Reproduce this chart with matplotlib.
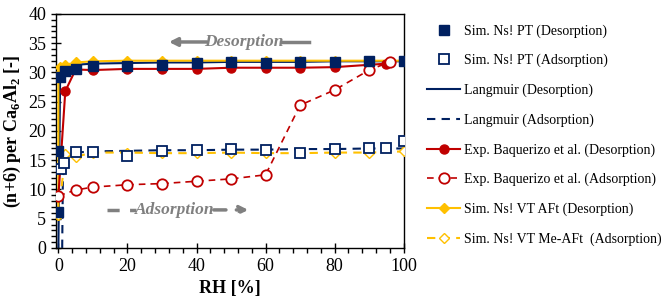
import numpy as np
import matplotlib
matplotlib.use('Agg')
import matplotlib.pyplot as plt
from matplotlib.ticker import MultipleLocator

plt.rcParams['font.family'] = 'Liberation Serif'
plt.rcParams['mathtext.fontset'] = 'custom'
plt.rcParams['mathtext.rm'] = 'Liberation Serif'
plt.rcParams['mathtext.bf'] = 'Liberation Serif:bold'

navy = '#002060'
red = '#C00000'
gold = '#FFC000'
grey = '#808080'

# Sim. Ns! PT
pt_des_rh = [0, 0, 0.5, 2, 5, 10, 20, 30, 40, 50, 60, 70, 80, 90, 100]
pt_des_n = [6.2, 16.6, 29.3, 30.3, 30.6, 31.1, 31.1, 31.2, 31.6, 31.7, 31.6, 31.8, 31.8, 32.0, 32.0]
pt_ads_rh = [0.7, 1.6, 5, 10, 20, 30, 40, 50, 60, 70, 80, 90, 95, 100]
pt_ads_n = [13.5, 14.6, 16.4, 16.4, 15.7, 16.5, 16.7, 16.9, 16.7, 16.3, 16.9, 17.1, 17.1, 18.3]

# Langmuir fits
lang_des_rh = [0, 0.5, 1, 2, 5, 10, 20, 30, 40, 50, 60, 70, 80, 90, 100]
lang_des_n = [0, 29.0, 30.3, 30.9, 31.3, 31.5, 31.6, 31.7, 31.7, 31.8, 31.8, 31.8, 31.9, 31.9, 31.9]
lang_ads_rh = [1.1, 1.3, 2, 5, 10, 20, 30, 40, 50, 60, 70, 80, 90, 100]
lang_ads_n = [0, 12.0, 15.5, 16.3, 16.5, 16.6, 16.7, 16.7, 16.8, 16.8, 16.9, 16.9, 17.0, 17.0]

# Exp. Baquerizo et al.
exp_des_rh = [0, 2, 5, 10, 20, 30, 40, 50, 60, 70, 80, 95]
exp_des_n = [8.9, 26.8, 30.5, 30.4, 30.6, 30.6, 30.6, 30.8, 30.8, 30.8, 30.9, 31.5]
exp_ads_rh = [0, 5, 10, 20, 30, 40, 50, 60, 70, 80, 90, 96]
exp_ads_n = [8.9, 9.9, 10.4, 10.8, 11.0, 11.4, 11.8, 12.5, 24.4, 27.0, 30.4, 31.8]

# Sim. Ns! VT
vt_des_rh = [0, 0, 0.5, 2, 5, 10, 20, 30, 40, 50, 60, 70, 80, 90, 100]
vt_des_n = [5.7, 29.5, 31.0, 31.3, 31.7, 31.9, 32.0, 32.0, 32.0, 32.0, 32.0, 32.0, 32.0, 32.0, 32.0]
vt_ads_rh = [0, 2, 5, 10, 20, 30, 40, 50, 60, 70, 80, 90, 100]
vt_ads_n = [5.6, 16.0, 15.6, 16.3, 16.3, 16.2, 16.2, 16.3, 16.2, 16.2, 16.3, 16.3, 16.5]

fig = plt.figure(figsize=(6.64, 3.02), dpi=100)
ax = fig.add_axes([0.0843, 0.179, 0.5237, 0.775])

ax.plot(lang_des_rh, lang_des_n, '-', color=navy, lw=1.5, label='Langmuir (Desorption)', zorder=2)
ax.plot(lang_ads_rh, lang_ads_n, '--', color=navy, lw=1.5, dashes=(4, 3), label='Langmuir (Adsorption)', zorder=2)
ax.plot(vt_des_rh, vt_des_n, '-', color=gold, lw=1.5, marker='D', ms=5, mfc=gold, mec=gold,
        label='Sim. Ns! VT AFt (Desorption)', zorder=3)
ax.plot(vt_ads_rh, vt_ads_n, '--', color=gold, lw=1.5, dashes=(4, 3), marker='D', ms=5, mfc='white', mec=gold,
        label='Sim. Ns! VT Me-AFt  (Adsorption)', zorder=3)
ax.plot(exp_des_rh, exp_des_n, '-', color=red, lw=1.5, marker='o', ms=6.5, mfc=red, mec=red,
        label='Exp. Baquerizo et al. (Desorption)', zorder=4)
ax.plot(exp_ads_rh, exp_ads_n, '--', color=red, lw=1.2, dashes=(4, 3), marker='o', ms=7.5, mfc='white', mec=red,
        mew=1.3, label='Exp. Baquerizo et al. (Adsorption)', zorder=4)
ax.plot(pt_des_rh, pt_des_n, 's', ms=7, color=navy, mec=navy, label='Sim. Ns! PT (Desorption)', zorder=5)
ax.plot(pt_ads_rh, pt_ads_n, 's', ms=7, mfc='white', mec=navy, mew=1.3, label='Sim. Ns! PT (Adsorption)', zorder=5)

ax.set_xlim(-0.7, 100)
ax.set_ylim(0, 40)
ax.xaxis.set_major_locator(MultipleLocator(20))
ax.xaxis.set_minor_locator(MultipleLocator(4))
ax.yaxis.set_major_locator(MultipleLocator(5))
ax.yaxis.set_minor_locator(MultipleLocator(1))
ax.tick_params(which='major', direction='inout', length=7, width=1, labelsize=13)
ax.tick_params(which='minor', direction='out', length=3.5, width=1)
for s in ax.spines.values():
    s.set_linewidth(1)

ax.set_xlabel('RH [%]', fontsize=13, fontweight='bold', labelpad=4)
ax.set_ylabel(r'(n+6) per Ca$_\mathbf{6}$Al$_\mathbf{2}$ [-]', fontsize=13, fontweight='bold', labelpad=4)

# annotations
ax.annotate('', xy=(32, 35.2), xytext=(43, 35.2),
            arrowprops=dict(arrowstyle='-|>', color=grey, lw=2.5, mutation_scale=12, shrinkA=0, shrinkB=0))
ax.plot([64.5, 72.7], [35.2, 35.2], color=grey, lw=2.5)
ax.text(53.7, 35.2, 'Desorption', color=grey, fontsize=12.5, fontweight='bold', style='italic',
        ha='center', va='center')
ax.plot([14.1, 22.5], [6.5, 6.5], color=grey, lw=2.5, dashes=(3.5, 3))
ax.annotate('', xy=(55, 6.5), xytext=(45, 6.5),
            arrowprops=dict(arrowstyle='-|>', color=grey, lw=2.5, ls=(0, (3.5, 3)), mutation_scale=12,
                            shrinkA=0, shrinkB=0))
ax.text(33.7, 6.5, 'Adsorption', color=grey, fontsize=12.5, fontweight='bold', style='italic',
        ha='center', va='center')

handles, labels = ax.get_legend_handles_labels()
order = ['Sim. Ns! PT (Desorption)', 'Sim. Ns! PT (Adsorption)', 'Langmuir (Desorption)',
         'Langmuir (Adsorption)', 'Exp. Baquerizo et al. (Desorption)', 'Exp. Baquerizo et al. (Adsorption)',
         'Sim. Ns! VT AFt (Desorption)', 'Sim. Ns! VT Me-AFt  (Adsorption)']
hmap = dict(zip(labels, handles))
fig.legend([hmap[k] for k in order], order, loc='upper left', bbox_to_anchor=(0.643, 0.92),
           frameon=False, fontsize=10, labelspacing=1.17, handlelength=2.4, handletextpad=0.25,
           borderaxespad=0, borderpad=0)

fig.savefig('out.png', dpi=100)
